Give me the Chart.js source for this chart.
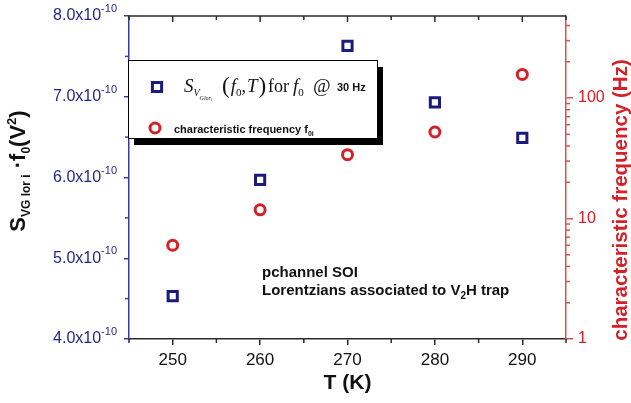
<!DOCTYPE html>
<html>
<head>
<meta charset="utf-8">
<script src="https://cdn.jsdelivr.net/npm/chart.js@4/dist/chart.umd.min.js"></script>
<style>
  html, body { margin: 0; padding: 0; background: #fff; }
  #wrap { width: 631px; height: 403px; }
</style>
</head>
<body>
<div id="wrap"><canvas id="chart" width="631" height="403"></canvas></div>
<script>
// ── DONNÉES ───────────────────────────────────────
const temperaturesK   = [250, 260, 270, 280, 290];
const psdTimesF0      = [4.53e-10, 5.97e-10, 7.63e-10, 6.93e-10, 6.49e-10];
const charFrequencyHz = [6.0, 11.8, 33.9, 52.3, 157];

const tempTicks       = [250, 260, 270, 280, 290];
const tempMinorTicks  = [245, 255, 265, 275, 285, 295];
const psdTicks        = [4e-10, 5e-10, 6e-10, 7e-10, 8e-10];
const psdTickLabels   = ['4.0', '5.0', '6.0', '7.0', '8.0'];
const psdMinorTicks   = [4.5e-10, 5.5e-10, 6.5e-10, 7.5e-10];
const freqTicks       = [1, 10, 100];
const freqMinorTicks  = [2, 3, 4, 5, 6, 7, 8, 9, 20, 30, 40, 50, 60, 70, 80, 90, 200, 300, 400];

// ── COULEURS ──────────────────────────────────────
const COULEURS = {
  marine:    '#1b1b7d',
  axeBleu:   '#3b3b9c',
  texteBleu: '#26268a',
  rouge:     '#d42027',
  axeRouge:  '#d9534f',
  noir:      '#111111',
  axe:       '#2a2a2a'
};

const SANS  = '"Liberation Sans", Arial, sans-serif';
const SERIF = '"Liberation Serif", "Times New Roman", serif';

// Dessine une suite de morceaux de texte (indices, exposants) à la suite
function mesurerSuite(ctx, morceaux) {
  let w = 0;
  morceaux.forEach(function(m) { ctx.font = m.font; w += ctx.measureText(m.text).width + (m.gap || 0); });
  return w;
}
function dessinerSuite(ctx, x, y, morceaux) {
  morceaux.forEach(function(m) {
    ctx.font = m.font;
    ctx.fillText(m.text, x, y + (m.dy || 0));
    x += ctx.measureText(m.text).width + (m.gap || 0);
  });
  return x;
}

function trait(ctx, x1, y1, x2, y2) {
  ctx.beginPath();
  ctx.moveTo(x1, y1);
  ctx.lineTo(x2, y2);
  ctx.stroke();
}

// ── DÉCOR : axe du haut, ticks mineurs, titres, légende, annotation ──
const decorPlugin = {
  id: 'decor',
  afterDraw(chart) {
    const ctx  = chart.ctx;
    const area = chart.chartArea;
    const sx = chart.scales.x, sy = chart.scales.y, sf = chart.scales.y1;
    ctx.save();

    // axe du haut, ticks vers l'intérieur
    ctx.strokeStyle = COULEURS.axe;
    ctx.lineWidth = 1.5;
    trait(ctx, area.left, area.top, area.right, area.top);
    tempTicks.forEach(function(v) {
      const px = sx.getPixelForValue(v);
      trait(ctx, px, area.top, px, area.top + 6);
    });
    tempMinorTicks.forEach(function(v) {
      const px = sx.getPixelForValue(v);
      trait(ctx, px, area.top, px, area.top + 4);
      trait(ctx, px, area.bottom, px, area.bottom + 4);
    });

    // ticks mineurs gauche
    ctx.strokeStyle = COULEURS.axeBleu;
    psdMinorTicks.forEach(function(v) {
      const py = sy.getPixelForValue(v);
      trait(ctx, area.left - 4, py, area.left, py);
    });

    // ticks mineurs droite (log)
    ctx.strokeStyle = COULEURS.axeRouge;
    freqMinorTicks.forEach(function(v) {
      const py = sf.getPixelForValue(v);
      if (py < area.top) return;
      trait(ctx, area.right, py, area.right + 4, py);
    });

    // étiquettes axe gauche  8.0x10^-10
    ctx.fillStyle = COULEURS.texteBleu;
    ctx.textAlign = 'right';
    ctx.textBaseline = 'middle';
    psdTicks.forEach(function(v, i) {
      const py = sy.getPixelForValue(v);
      const droite = area.left - 12;
      ctx.font = '11px ' + SANS;
      const wSup = ctx.measureText('-10').width;
      ctx.fillText('-10', droite, py - 7);
      ctx.font = '16px ' + SANS;
      ctx.fillText(psdTickLabels[i] + 'x10', droite - wSup, py);
    });

    // titre gauche
    ctx.textAlign = 'left';
    ctx.textBaseline = 'alphabetic';
    ctx.fillStyle = COULEURS.noir;
    const titreGauche = [
      { text: 'S',        font: 'bold 22px ' + SANS },
      { text: 'VG lor i', font: 'bold 12px ' + SANS, dy: 5 },
      { text: ' \u00b7',  font: 'bold 22px ' + SANS },
      { text: 'f',        font: 'bold 22px ' + SANS },
      { text: '0',        font: 'bold 12px ' + SANS, dy: 5 },
      { text: '(V',       font: 'bold 22px ' + SANS },
      { text: '2',        font: 'bold 13px ' + SANS, dy: -9 },
      { text: ')',        font: 'bold 22px ' + SANS }
    ];
    ctx.save();
    ctx.translate(25, 171);
    ctx.rotate(-Math.PI / 2);
    dessinerSuite(ctx, -mesurerSuite(ctx, titreGauche) / 2, 0, titreGauche);
    ctx.restore();

    // titre droit
    ctx.save();
    ctx.translate(621, 200);
    ctx.rotate(-Math.PI / 2);
    ctx.textAlign = 'center';
    ctx.textBaseline = 'middle';
    ctx.fillStyle = COULEURS.rouge;
    ctx.font = 'bold 20.5px ' + SANS;
    ctx.fillText('characteristic frequency (Hz)', 0, 0);
    ctx.restore();

    // légende encadrée avec ombre
    const bx = 128, by = 60, bw = 249, bh = 78;
    ctx.fillStyle = '#000';
    ctx.fillRect(bx + 6, by + 7, bw, bh);
    ctx.fillStyle = '#fff';
    ctx.fillRect(bx, by, bw, bh);
    ctx.strokeStyle = '#000';
    ctx.lineWidth = 1;
    ctx.strokeRect(bx + 0.5, by + 0.5, bw, bh);

    const ds0 = chart.data.datasets[0], ds1 = chart.data.datasets[1];
    ctx.fillStyle = '#fff'; ctx.strokeStyle = ds0.borderColor; ctx.lineWidth = ds0.borderWidth;
    Chart.helpers.drawPoint(ctx, {
      pointStyle: ds0.pointStyle, radius: ds0.pointRadius, borderWidth: ds0.borderWidth, rotation: 0
    }, 157, 87);
    ctx.fillStyle = '#fff'; ctx.strokeStyle = ds1.borderColor; ctx.lineWidth = ds1.borderWidth;
    Chart.helpers.drawPoint(ctx, {
      pointStyle: ds1.pointStyle, radius: ds1.pointRadius, borderWidth: ds1.borderWidth, rotation: 0
    }, 155, 128);

    ctx.fillStyle = COULEURS.noir;
    ctx.textAlign = 'left';
    ctx.textBaseline = 'alphabetic';
    const it = 'italic 19px ' + SERIF, rm = '18px ' + SERIF;
    dessinerSuite(ctx, 184, 92, [
      { text: 'S',    font: it },
      { text: 'V',    font: 'italic 10px ' + SERIF, dy: 4 },
      { text: 'Glor', font: 'italic 6px ' + SERIF, dy: 8 },
      { text: 'i',    font: 'italic 4px ' + SERIF, dy: 9 }
    ]);
    dessinerSuite(ctx, 222, 93, [
      { text: '(', font: '23px ' + SERIF, gap: 1 },
      { text: 'f', font: it, dy: -1 },
      { text: '0', font: '11px ' + SERIF, dy: 3 },
      { text: ',', font: rm, dy: -1, gap: 1 },
      { text: 'T', font: it, dy: -1, gap: 1 },
      { text: ')', font: '23px ' + SERIF }
    ]);
    dessinerSuite(ctx, 268, 92, [{ text: 'for', font: rm }]);
    dessinerSuite(ctx, 293, 92, [
      { text: 'f', font: it },
      { text: '0', font: '11px ' + SERIF, dy: 4 }
    ]);
    dessinerSuite(ctx, 313, 92, [{ text: '@', font: it }]);
    dessinerSuite(ctx, 337, 91, [{ text: '30 Hz', font: 'bold 11px ' + SANS }]);

    dessinerSuite(ctx, 174, 133, [
      { text: 'characteristic frequency f', font: 'bold 11px ' + SANS },
      { text: '0i', font: 'bold 7px ' + SANS, dy: 3 }
    ]);

    // annotation
    ctx.fillStyle = COULEURS.noir;
    dessinerSuite(ctx, 262, 277, [{ text: 'pchannel SOI', font: 'bold 15px ' + SANS }]);
    dessinerSuite(ctx, 262, 295, [
      { text: 'Lorentzians associated to V', font: 'bold 15px ' + SANS },
      { text: '2', font: 'bold 10px ' + SANS, dy: 4 },
      { text: 'H trap', font: 'bold 15px ' + SANS }
    ]);

    ctx.restore();
  }
};

// ── GRAPHIQUE ─────────────────────────────────────
new Chart(document.getElementById('chart'), {
  type: 'scatter',
  data: {
    datasets: [
      {
        label: 'S_VGlor_i(f0,T) for f0 @ 30 Hz',
        data: temperaturesK.map(function(t, i) { return { x: t, y: psdTimesF0[i] }; }),
        yAxisID: 'y',
        pointStyle: 'rect',
        pointRadius: 6.5,
        borderWidth: 3,
        borderColor: COULEURS.marine,
        backgroundColor: '#ffffff'
      },
      {
        label: 'characteristic frequency f0i',
        data: temperaturesK.map(function(t, i) { return { x: t, y: charFrequencyHz[i] }; }),
        yAxisID: 'y1',
        pointStyle: 'circle',
        pointRadius: 5,
        borderWidth: 3,
        borderColor: COULEURS.rouge,
        backgroundColor: '#ffffff'
      }
    ]
  },
  options: {
    responsive: false,
    animation: false,
    events: [],
    layout: { padding: { top: 16, left: 0, right: 0, bottom: 0 } },
    plugins: { legend: { display: false }, tooltip: { enabled: false } },
    scales: {
      x: {
        type: 'linear',
        position: 'bottom',
        min: 245,
        max: 295,
        afterBuildTicks: function(s) { s.ticks = tempTicks.map(function(v) { return { value: v }; }); },
        afterFit: function(s) { s.height = 64; },
        ticks: { color: COULEURS.noir, font: { family: SANS, size: 17 }, padding: 5, maxRotation: 0, autoSkip: false },
        grid: { drawOnChartArea: false, drawTicks: true, tickLength: 6, color: COULEURS.axe, lineWidth: 1.5 },
        border: { color: COULEURS.axe, width: 1.5 },
        title: {
          display: true, text: 'T (K)', color: COULEURS.noir,
          font: { family: SANS, size: 21, weight: 'bold' }, padding: { top: 0, bottom: 7 }
        }
      },
      y: {
        type: 'linear',
        position: 'left',
        min: 4e-10,
        max: 8e-10,
        afterBuildTicks: function(s) { s.ticks = psdTicks.map(function(v) { return { value: v }; }); },
        afterFit: function(s) { s.width = 129; },
        ticks: { display: false },
        grid: { drawOnChartArea: false, drawTicks: true, tickLength: 5, color: COULEURS.axeBleu, lineWidth: 1.5 },
        border: { color: COULEURS.axeBleu, width: 1.5 }
      },
      y1: {
        type: 'logarithmic',
        position: 'right',
        min: 1,
        max: 480,
        afterBuildTicks: function(s) { s.ticks = freqTicks.map(function(v) { return { value: v }; }); },
        afterFit: function(s) { s.width = 65; },
        ticks: {
          color: COULEURS.rouge, font: { family: SANS, size: 16 }, padding: 5,
          callback: function(v) { return String(v); }
        },
        grid: { drawOnChartArea: false, drawTicks: true, tickLength: 7, color: COULEURS.axeRouge, lineWidth: 1.5 },
        border: { color: COULEURS.axeRouge, width: 1.5 }
      }
    }
  },
  plugins: [decorPlugin]
});
</script>
</body>
</html>
